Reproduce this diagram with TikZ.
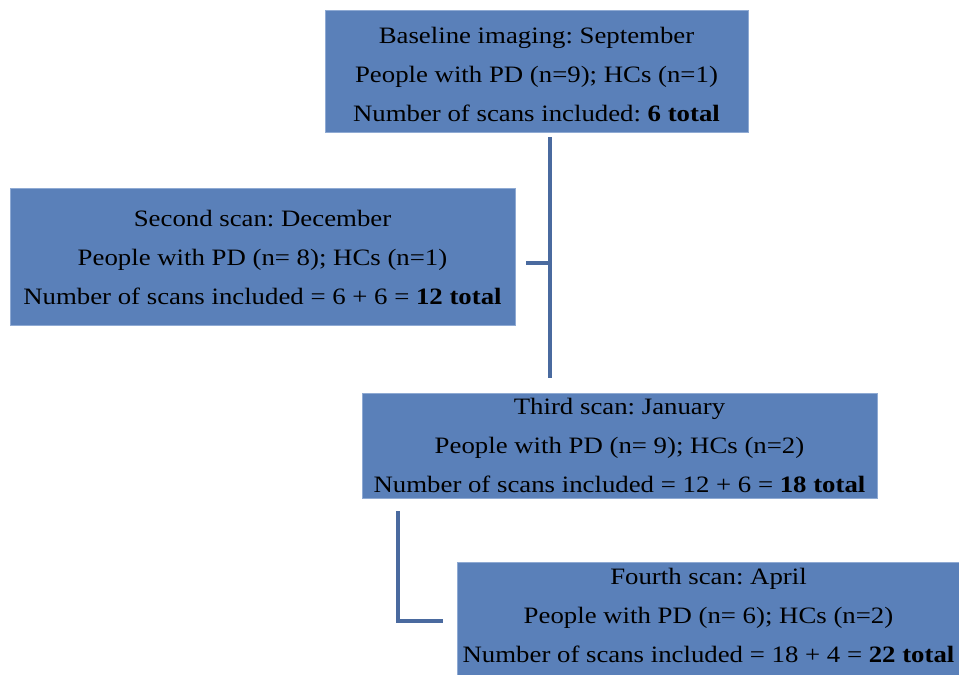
\documentclass[tikz,border=0pt]{standalone}
\usepackage{fontspec}
\setmainfont{Liberation Serif}[FakeStretch=1.14]
\definecolor{boxblue}{HTML}{5A80B9}
\definecolor{boxedge}{HTML}{8FAAD3}
\definecolor{linecol}{HTML}{4A6A9F}
\frenchspacing
\begin{document}
\begin{tikzpicture}[x=1pt,y=-1pt,
  infobox/.style={draw=boxedge,line width=1pt,fill=boxblue,inner sep=0pt},
  boxtext/.style={inner sep=0pt,align=center,font=\fontsize{23.5}{39}\selectfont,text=black},
  conn/.style={draw=linecol,line width=4pt}]
\useasboundingbox (0,0) rectangle (959,675);
\fill[white] (0,0) rectangle (959,675);
\node[infobox,minimum width=423,minimum height=122] (b1) at (536.5,71) {};
\node[boxtext] (b1t) at ([yshift=-4]b1.center)
  {Baseline imaging: September\\People with PD (n=9); HCs (n=1)\\Number of scans included: \textbf{6 total}};
\node[infobox,minimum width=505,minimum height=137] (b2) at (262.5,256.5) {};
\node[boxtext] (b2t) at ([yshift=-1]b2.center)
  {Second scan: December\\People with PD (n= 8); HCs (n=1)\\Number of scans included = 6 + 6 = \textbf{12 total}};
\node[infobox,minimum width=515,minimum height=105] (b3) at (619.5,445.5) {};
\node[boxtext] (b3t) at (b3.center)
  {Third scan: January\\People with PD (n= 9); HCs (n=2)\\Number of scans included = 12 + 6 = \textbf{18 total}};
\node[infobox,minimum width=502,minimum height=113] (b4) at (708.5,618.5) {};
\node[boxtext] (b4t) at ([yshift=3]b4.center)
  {Fourth scan: April\\People with PD (n= 6); HCs (n=2)\\Number of scans included = 18 + 4 = \textbf{22 total}};
\coordinate (v1top) at (550,137);
\coordinate (v1bot) at (550,378);
\coordinate (tickL) at (526,263);
\coordinate (tickR) at (550,263);
\coordinate (v2top) at (398,511);
\coordinate (v2corner) at (398,621);
\coordinate (v2end) at (443,621);
\draw[conn] (v1top) -- (v1bot);
\draw[conn] (tickL) -- (tickR);
\draw[conn] (v2top) -- (v2corner) -- (v2end);
\end{tikzpicture}
\end{document}
